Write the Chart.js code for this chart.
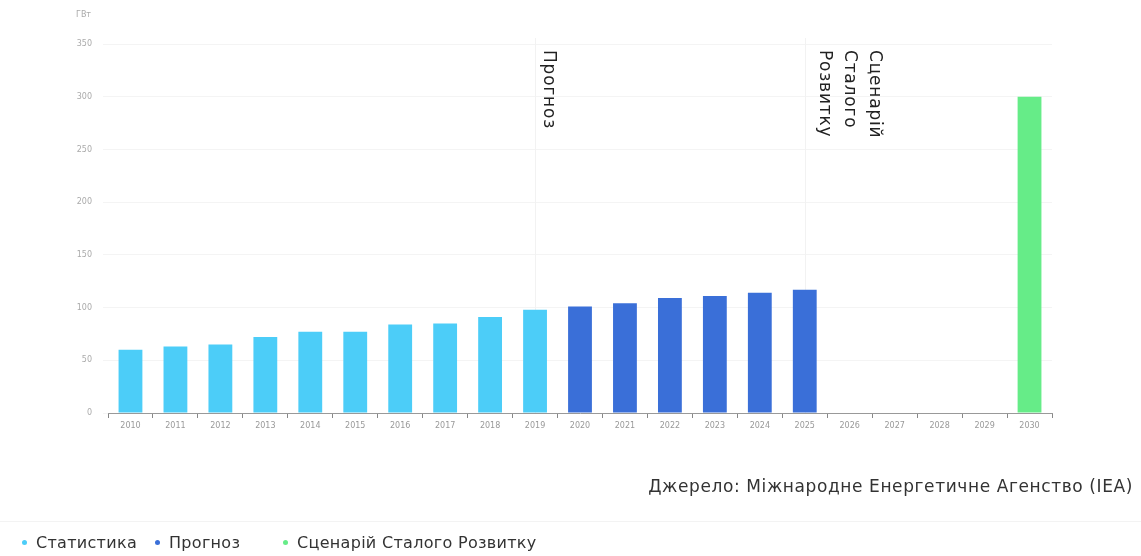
<!DOCTYPE html>
<html>
<head>
<meta charset="utf-8">
<script src="https://cdn.jsdelivr.net/npm/chart.js@4"></script>
<style>
  html, body { margin: 0; padding: 0; background: #fff; }
  body { width: 1141px; height: 556px; position: relative; overflow: hidden; font-family: "DejaVu Sans", sans-serif; }
  #wrap { position: absolute; left: 0; top: 0; width: 1141px; height: 556px; }
  #unit { position: absolute; left: 76px; top: 10px; font-size: 8px; color: #aaa; }
  #source { position: absolute; right: 8px; top: 476px; font-size: 17px; letter-spacing: 0.6px; color: #333; white-space: nowrap; }
  #legend { position: absolute; left: 0; top: 521px; width: 1141px; height: 35px; border-top: 1px solid #f3f3f3;
            font-size: 16px; letter-spacing: 0.3px; color: #333; }
  #legend span.item { position: absolute; top: 11px; white-space: nowrap; }
  #legend i { display: inline-block; width: 5px; height: 5px; border-radius: 50%; margin-right: 9px; vertical-align: middle; position: relative; top: -1px; }
</style>
</head>
<body>
<div id="wrap"><canvas id="chart"></canvas></div>
<div id="unit">ГВт</div>
<div id="source">Джерело: Міжнародне Енергетичне Агенство (IEA)</div>
<div id="legend"></div>
<script>
// years on the x axis
const years = ['2010','2011','2012','2013','2014','2015','2016','2017','2018','2019',
               '2020','2021','2022','2023','2024','2025','2026','2027','2028','2029','2030'];
// statistics 2010-2019
const statValues = [60, 63, 65, 72, 77, 77, 84, 85, 91, 98,
                    null, null, null, null, null, null, null, null, null, null, null];
// forecast 2020-2025
const forecastValues = [null, null, null, null, null, null, null, null, null, null,
                        101, 104, 109, 111, 114, 117, null, null, null, null, null];
// sustainable development scenario 2030
const sdsValues = [null, null, null, null, null, null, null, null, null, null,
                   null, null, null, null, null, null, null, null, null, null, 300];
const yTicks = [0, 50, 100, 150, 200, 250, 300, 350];

const seriesNames = ['Статистика', 'Прогноз', 'Сценарій Сталого Розвитку'];
const colors = ['#4ccdf8', '#3a6fd8', '#66ec88'];

// vertical notes over the plot
const notes = [
  { at: '2019', dx: 13, lines: ['Прогноз'] },
  { at: '2025', dx: 70, lines: ['Сценарій', 'Сталого', 'Розвитку'] }
];

const notesPlugin = {
  id: 'notes',
  beforeDatasetsDraw(chart) {
    const { ctx, chartArea, scales: { x } } = chart;
    ctx.save();
    ctx.strokeStyle = '#f2f2f2';
    ctx.lineWidth = 1;
    notes.forEach(n => {
      const px = Math.round(x.getPixelForValue(years.indexOf(n.at))) + 0.5;
      ctx.beginPath();
      ctx.moveTo(px, chartArea.top - 6);
      ctx.lineTo(px, chartArea.bottom);
      ctx.stroke();
    });
    ctx.restore();
  },
  afterDraw(chart) {
    const { ctx, chartArea, scales: { x } } = chart;
    ctx.save();
    ctx.fillStyle = '#222';
    ctx.font = '17px "DejaVu Sans", sans-serif';
    ctx.letterSpacing = '0.8px';
    ctx.textAlign = 'left';
    ctx.textBaseline = 'middle';
    notes.forEach(n => {
      const px = x.getPixelForValue(years.indexOf(n.at)) + n.dx;
      ctx.save();
      ctx.translate(px, chartArea.top + 6);
      ctx.rotate(Math.PI / 2);
      n.lines.forEach((line, i) => ctx.fillText(line, 0, i * 25));
      ctx.restore();
    });
    ctx.restore();
  }
};

const ds = (label, data, color) => ({
  label, data,
  backgroundColor: color,
  borderWidth: 0,
  categoryPercentage: 1,
  barPercentage: 0.53,
  grouped: false
});

new Chart(document.getElementById('chart'), {
  type: 'bar',
  data: {
    labels: years,
    datasets: [
      ds(seriesNames[0], statValues, colors[0]),
      ds(seriesNames[1], forecastValues, colors[1]),
      ds(seriesNames[2], sdsValues, colors[2])
    ]
  },
  options: {
    responsive: true,
    maintainAspectRatio: false,
    animation: false,
    layout: { padding: { left: 0, right: 89, top: 44, bottom: 123 } },
    plugins: { legend: { display: false }, tooltip: { enabled: false } },
    scales: {
      x: {
        grid: { display: true, drawOnChartArea: false, offset: true, color: '#888', tickLength: 5 },
        border: { color: '#999' },
        ticks: { color: '#999', font: { size: 8, family: 'DejaVu Sans' }, padding: 3, maxRotation: 0, autoSkip: false },
        afterFit(scale) { scale.height = 20; }
      },
      y: {
        min: 0, max: 350,
        afterBuildTicks(scale) { scale.ticks = yTicks.map(v => ({ value: v })); },
        grid: { color: '#f4f4f4', tickLength: 5 },
        border: { display: false },
        ticks: { color: '#aaa', font: { size: 8, family: 'DejaVu Sans' }, padding: 11 },
        afterFit(scale) { scale.width = 108; }
      }
    }
  },
  plugins: [notesPlugin]
});

// legend
const legend = document.getElementById('legend');
const legendX = [22, 155, 283];
seriesNames.forEach((name, i) => {
  const s = document.createElement('span');
  s.className = 'item';
  s.style.left = legendX[i] + 'px';
  s.innerHTML = '<i style="background:' + colors[i] + '"></i>' + name;
  legend.appendChild(s);
});
</script>
</body>
</html>
